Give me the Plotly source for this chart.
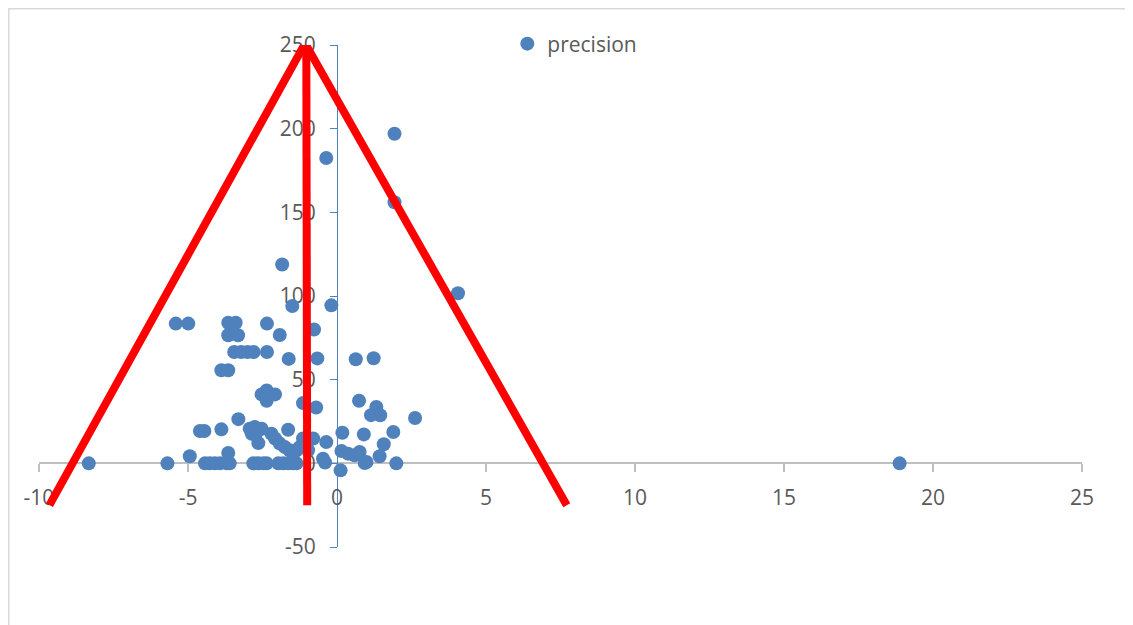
import plotly.graph_objects as go

# ---- data ----
series_name = "precision"
effect = [
    1.93, -0.36, 1.93, 4.06, -1.84, -1.50, -0.19,
    -5.41, -4.99, -3.65, -3.40, -2.35,
    -3.54, -3.65, -3.32, -1.92, -0.77,
    -3.45, -3.22, -3.00, -2.80, -2.35,
    -1.62, -0.66, 0.63, 1.23,
    -3.88, -3.65,
    -2.53, -2.36, -2.08, -2.36, -1.14, -0.70, 0.74, 1.32, 1.14, 1.45, 2.62, -3.31,
    -4.60, -4.45, -3.88, -2.93, -2.76, -2.53, -2.86, -2.69,
    -2.64, -2.20, -2.08, -1.64, 0.18, 0.90, 1.89, 1.57,
    -1.92, -1.75, -1.59, -1.47, -1.36, -1.25, -1.14, -1.03, -0.97,
    -0.80, -0.36, -0.47,
    -4.94, -3.65, 1.43, 0.15, 0.37, 0.59, 0.76, 0.99, 0.12,
    -8.33, -5.69, -4.43, -4.27, -4.10, -3.93, -3.70, -3.60, -2.81, -2.64, -2.47,
    -2.36, -1.97, -1.80, -1.64, -1.47, -1.36, -0.40, 0.93, 1.99, 18.88,
]
precision = [
    197.0, 182.5, 156.0, 101.6, 118.8, 94.0, 94.4,
    83.5, 83.5, 84.0, 84.0, 83.5,
    79.5, 76.5, 76.5, 76.7, 80.0,
    66.5, 66.5, 66.5, 66.5, 66.5,
    62.4, 62.7, 62.2, 62.8,
    55.6, 55.6,
    41.2, 43.6, 41.2, 37.4, 36.0, 33.4, 37.4, 33.7, 28.8, 28.7, 27.1, 26.4,
    19.3, 19.3, 20.3, 20.7, 21.7, 20.7, 17.7, 18.7,
    12.1, 17.7, 14.8, 20.1, 18.3, 17.3, 18.7, 11.4,
    11.8, 9.7, 7.8, 5.8, 7.8, 9.7, 14.8, 11.8, 7.8,
    14.8, 12.7, 2.8,
    4.2, 6.2, 4.2, 7.4, 5.8, 4.8, 6.8, 0.8, -4.2,
    0, 0, 0, 0, 0, 0, 0, 0, 0, 0, 0,
    0, 0, 0, 0, 0, 0, 0.5, 0.2, 0, 0,
]

# funnel drawn over the chart
funnel_x = [-9.65, -1.07, 7.71]
funnel_y = [-25, 251, -25]
center_x = [-1.03, -1.00]
center_y = [251, -25]

x_ticks = [-10, -5, 0, 5, 10, 15, 20, 25]
y_ticks = [-50, 0, 50, 100, 150, 200, 250]
x_range = [-10, 25]
y_range = [-50, 250]

BLUE = "#4F81BD"
TXT = "#595959"
FONT = "Open Sans"

fig = go.Figure()
fig.add_trace(go.Scatter(
    x=effect, y=precision, mode="markers", name=series_name,
    marker=dict(color=BLUE, size=14),
))
fig.add_trace(go.Scatter(
    x=funnel_x, y=funnel_y, mode="lines", showlegend=False,
    line=dict(color="#FF0000", width=8), hoverinfo="skip",
))
fig.add_trace(go.Scatter(
    x=center_x, y=center_y, mode="lines", showlegend=False,
    line=dict(color="#FF0000", width=8), hoverinfo="skip",
))

fig.update_layout(
    width=1125, height=617,
    margin=dict(l=31, r=51, t=37, b=78),
    paper_bgcolor="white", plot_bgcolor="white",
    font=dict(family=FONT, size=21, color=TXT),
    legend=dict(x=0.449, y=1.002, xanchor="left", yanchor="middle",
                orientation="h", bgcolor="rgba(0,0,0,0)",
                font=dict(family=FONT, size=21, color=TXT)),
    xaxis=dict(
        range=x_range, tickvals=x_ticks, ticktext=[str(v) for v in x_ticks],
        showgrid=False, zeroline=False,
        showline=True, linecolor="#BFBFBF", linewidth=1.5,
        ticks="outside", ticklen=8, tickcolor="#BFBFBF", tickwidth=1.5,
        anchor="free", position=(0 - y_range[0]) / (y_range[1] - y_range[0]),
        ticklabelstandoff=8, layer="below traces",
    ),
    yaxis=dict(
        range=y_range, tickvals=y_ticks, ticktext=[str(v) for v in y_ticks],
        showgrid=False, zeroline=False,
        showline=True, linecolor=BLUE, linewidth=1,
        ticks="outside", ticklen=7, tickcolor=BLUE, tickwidth=1,
        anchor="free", position=(0 - x_range[0]) / (x_range[1] - x_range[0]),
        ticklabelstandoff=10, layer="below traces",
    ),
    shapes=[dict(type="rect", xref="paper", yref="paper",
                 x0=-0.0290, x1=1.06, y0=-0.17, y1=1.0720,
                 line=dict(color="#D9D9D9", width=1.5), layer="below")],
)

fig.write_html("out.html")
